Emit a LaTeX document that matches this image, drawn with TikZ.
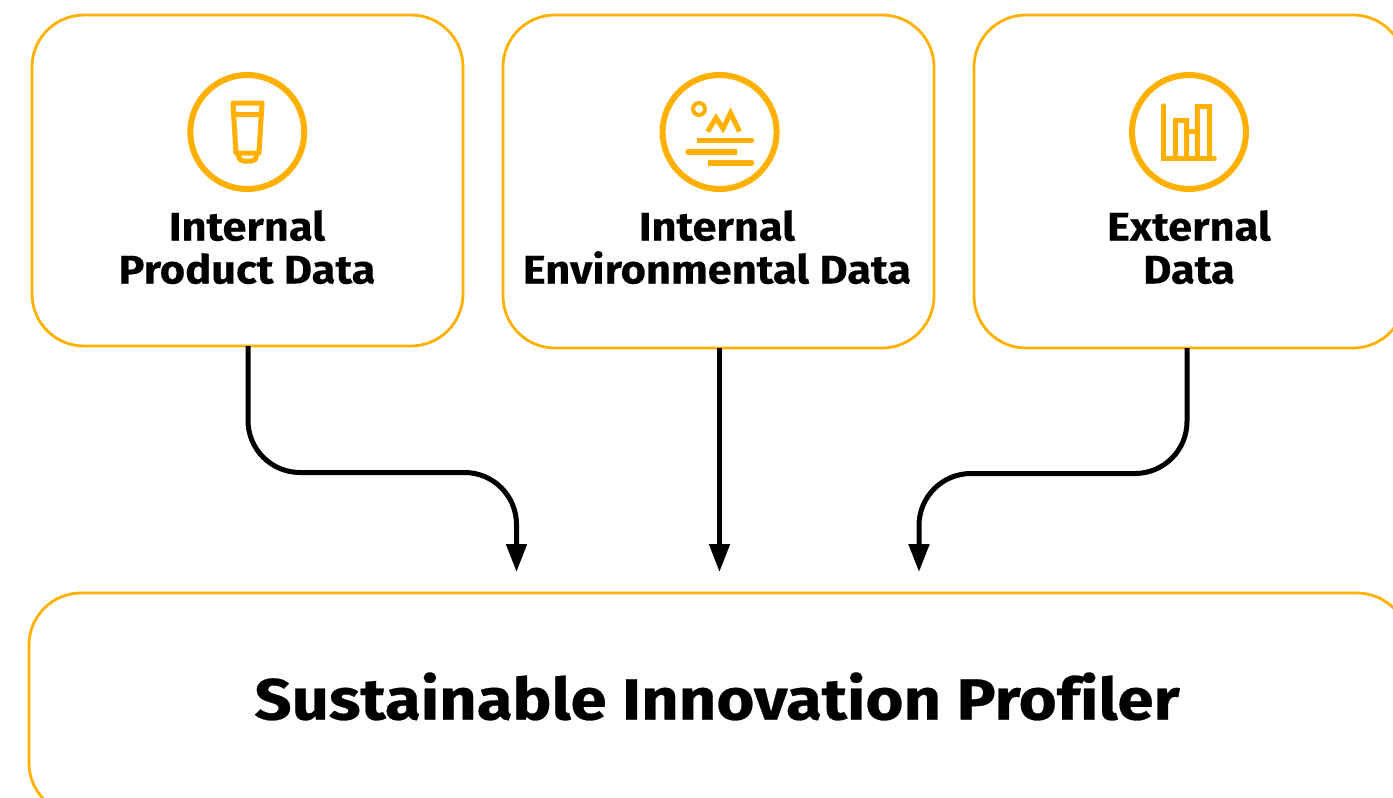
\documentclass[tikz,border=0pt]{standalone}
\usepackage{fontspec}
\usetikzlibrary{arrows.meta,calc}
\setmainfont{Fira Sans}[UprightFont=* Bold]
\newfontfamily\labelfont{Fira Sans}[UprightFont=* Bold,FakeStretch=1.085,FakeBold=0.15,Ligatures=NoCommon]
\newfontfamily\titlefont{Fira Sans}[UprightFont=* Bold,FakeStretch=1.125,FakeBold=0.5,Ligatures=NoCommon]
\definecolor{amber}{HTML}{FFB000}
\tikzset{
  panel/.style={draw=amber,line width=2.8pt,rounded corners=52pt,inner sep=0pt,outer sep=0pt,fill=white},
  ring/.style={draw=amber,line width=6pt,circle,minimum size=114pt,inner sep=0pt,outer sep=0pt},
  label/.style={inner sep=0pt,outer sep=0pt,align=center,anchor=base,font=\labelfont\fontsize{40}{43}\selectfont},
  title/.style={inner sep=0pt,outer sep=0pt,anchor=base,font=\titlefont\fontsize{58}{62}\selectfont},
  flow/.style={draw=black,line width=5pt,rounded corners=52pt,-{Triangle[length=28pt,width=20pt]}},
  glyph/.style={draw=amber,line width=5pt,line join=round},
}
\begin{document}
\begin{tikzpicture}[x=1pt,y=-1pt]
\useasboundingbox (0,0) rectangle (1393,798);
\clip (0,0) rectangle (1393,798);

% panels
\node[panel,minimum width=431pt,minimum height=331pt] (product) at (247.5,180.5) {};
\node[panel,minimum width=431pt,minimum height=333pt] (env) at (718.5,181.5) {};
\node[panel,minimum width=431pt,minimum height=333pt] (external) at (1189.5,181.5) {};
\node[panel,minimum width=1380pt,minimum height=222pt] (profiler) at (719,704) {};

% rings
\node[ring] (ringa) at (247.3,132) {};
\node[ring] (ringb) at (719.6,132) {};
\node[ring] (ringc) at (1189,132) {};

% tube icon
\draw[glyph] (233,103) -- (262,103) -- (259,153) -- (236,153) -- cycle;
\draw[glyph] (233.5,114.5) -- (261.5,114.5);
\draw[glyph,rounded corners=5pt] (238.5,153) -- (238.5,161) -- (256.5,161) -- (256.5,153);

% landscape icon
\draw[glyph,line width=4pt] (699,109) circle (6);
\draw[glyph,line width=5pt,line join=miter] (707.7,131.5) -- (716,118) -- (723,128.5) -- (730.5,113) -- (739.5,131.5);
\draw[glyph,line width=5.5pt] (697,140.3) -- (735,140.3);
\draw[glyph,line width=5.5pt,line cap=round] (725,140.3) -- (751.5,140.3);
\draw[glyph,line width=5.5pt] (737,152) -- (700,152);
\draw[glyph,line width=5.5pt,line cap=round] (710,152) -- (688,152);
\draw[glyph,line width=5.5pt] (708,163) -- (735,163);
\draw[glyph,line width=5.5pt,line cap=round] (725,163) -- (751.5,163);

% chart icon
\draw[glyph,line width=5.5pt,line cap=round,line join=miter] (1163.5,106) -- (1163.5,158.3) -- (1214,158.3);
\draw[glyph,line join=miter] (1175,158) -- (1175,120.5) -- (1186.3,120.5) -- (1186.3,158);
\draw[glyph,line join=miter] (1197.7,158) -- (1197.7,106.5) -- (1209,106.5) -- (1209,158);
\draw[glyph] (1186.3,131.7) -- (1197.7,131.7);

% labels
\node[label] (la1) at (247,240.5) {Internal};
\node[label] (la2) at (247,283.5) {Product Data};
\node[label] (lb1) at (717,240.5) {Internal};
\node[label] (lb2) at (717,283.5) {Environmental Data};
\node[label] (lc1) at (1189,240.5) {External};
\node[label] (lc2) at (1189,283.5) {Data};
\node[title] (ttl) at (717,719.5) {Sustainable Innovation Profiler};

% connectors
\coordinate (ta) at (516.5,572);
\coordinate (tb) at (719.5,572);
\coordinate (tc) at (919,572);
\coordinate (sa) at ($(product.south)+(0.5,0)$);
\coordinate (sb) at ($(env.south)+(1,0)$);
\coordinate (sc) at ($(external.south)+(-2.5,0)$);
\draw[flow] (sa) -- (sa |- 0,472.5) -- (ta |- 0,472.5) -- (ta);
\draw[flow] (sb) -- (tb);
\draw[flow] (sc) -- (sc |- 0,473.5) -- (tc |- 0,473.5) -- (tc);
\end{tikzpicture}
\end{document}
